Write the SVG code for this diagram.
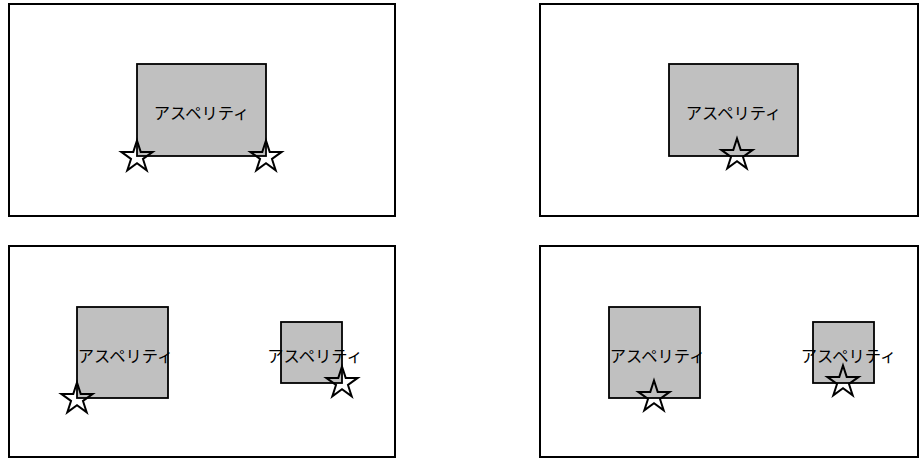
<svg xmlns="http://www.w3.org/2000/svg" width="919" height="459" viewBox="0 0 919 459">
<defs>
<style>
.frame{fill:#ffffff;stroke:#000000;stroke-width:2}
.asp{fill:#c0c0c0;stroke:#000000;stroke-width:1.8}
.lbl{font-family:"Noto Sans CJK JP","Noto Sans",sans-serif;font-size:16.3px;fill:#000000;text-anchor:middle}
.star{fill:none;stroke:#000000;stroke-width:2;stroke-linejoin:miter}
</style>
<path id="star" class="star" d="M0,-16.5 L3.7,-5.1 L15.69,-5.1 L5.98,1.95 L9.7,13.35 L0,6.3 L-9.7,13.35 L-5.98,1.95 L-15.69,-5.1 L-3.7,-5.1 Z"/>
</defs>
<rect width="919" height="459" fill="#ffffff"/>
<g id="panel1">
<rect class="frame" x="9" y="4" width="386" height="212"/>
<g id="p1-asperity">
<rect class="asp" x="137" y="64" width="129" height="92"/>
<text class="lbl" x="201.5" y="119">アスペリティ</text>
</g>
<use href="#star" x="137" y="157"/>
<use href="#star" x="266" y="157"/>
</g>
<g id="panel2">
<rect class="frame" x="540" y="4" width="378" height="212"/>
<g id="p2-asperity">
<rect class="asp" x="669" y="64" width="129" height="92"/>
<text class="lbl" x="733.5" y="119">アスペリティ</text>
</g>
<use href="#star" x="737" y="155"/>
</g>
<g id="panel3">
<rect class="frame" x="9" y="246" width="386" height="211"/>
<g id="p3-asperity-a">
<rect class="asp" x="77" y="307" width="91" height="91"/>
<text class="lbl" x="125.5" y="361.5">アスペリティ</text>
</g>
<g id="p3-asperity-b">
<rect class="asp" x="281" y="322" width="61" height="61"/>
<text class="lbl" x="315" y="361.5">アスペリティ</text>
</g>
<use href="#star" x="77" y="399"/>
<use href="#star" x="342" y="383"/>
</g>
<g id="panel4">
<rect class="frame" x="540" y="246" width="378" height="211"/>
<g id="p4-asperity-a">
<rect class="asp" x="609" y="307" width="91" height="91"/>
<text class="lbl" x="657.5" y="361.5">アスペリティ</text>
</g>
<g id="p4-asperity-b">
<rect class="asp" x="813" y="322" width="61" height="61"/>
<text class="lbl" x="848.5" y="361.5">アスペリティ</text>
</g>
<use href="#star" x="654" y="397"/>
<use href="#star" x="843" y="382"/>
</g>
<g id="connectors"/>
</svg>
